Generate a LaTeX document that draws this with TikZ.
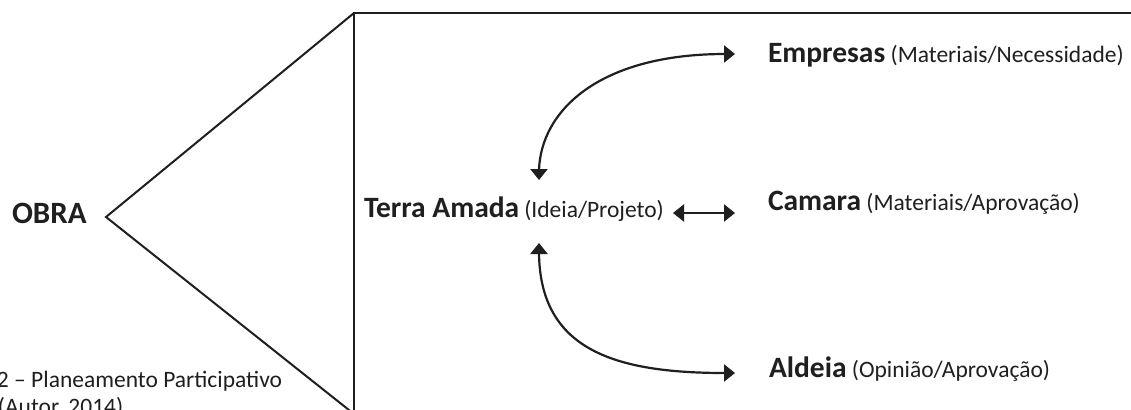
\documentclass[tikz,border=0pt]{standalone}
\usepackage{fontspec}
\setmainfont{Carlito}
\usetikzlibrary{arrows.meta,calc}
\newcommand{\bfnt}{\fontsize{29.5bp}{35bp}\selectfont\bfseries}
\newcommand{\obfnt}{\fontsize{31bp}{36bp}\selectfont\bfseries}
\newcommand{\rgfnt}{\fontsize{23.5bp}{28bp}\selectfont\mdseries}
\tikzset{
  lbl/.style={anchor=base west,inner sep=0pt,outer sep=0pt,text=black!88},
  frame/.style={line width=2.4bp,black!88},
  diag/.style={line width=2bp,black!88},
  curve/.style={line width=2.2bp,black!88},
  head/.style={line width=2.2bp,black!88,-{Triangle[length=11bp,width=17bp]}},
  dlink/.style={line width=2.2bp,black!88,{Triangle[length=11bp,width=17bp]}-{Triangle[length=11bp,width=17bp]}}
}
\begin{document}
\begin{tikzpicture}[x=1bp,y=-1bp]
\clip (0,0) rectangle (1131,409);
\fill[white] (0,0) rectangle (1131,409);
% triangle and frame
\coordinate (apex) at (106,217);
\coordinate (tl) at (354,13);
\coordinate (bl) at (354,414);
\coordinate (tr) at (1135,13);
\draw[diag] (tl) -- (apex) -- (bl);
\draw[frame] (bl) -- (tl) -- (tr);
% labels
\node[lbl] (obra) at (12,223) {\obfnt OBRA};
\node[lbl] (terra) at (364,217) {\bfnt Terra Amada};
\node[lbl,anchor=base west] (ideia) at ($(terra.base east)+(5,0)$) {\rgfnt (Ideia/Projeto)};
\node[lbl] (emp) at (768,62) {\bfnt Empresas\rgfnt\ (Materiais/Necessidade)};
\node[lbl] (cam) at (768,210) {\bfnt Camara\rgfnt\ (Materiais/Aprova\c{c}\~ao)};
\node[lbl] (ald) at (769,377) {\bfnt Aldeia\rgfnt\ (Opini\~ao/Aprova\c{c}\~ao)};
\node[lbl] (cap1) at (-3,387) {\rgfnt 2 -- Planeamento Participativo};
\node[lbl] (cap2) at (-2,414) {\rgfnt (Autor, 2014)};
% arrow end points
\coordinate (up) at (539,180);
\coordinate (dn) at (539,243);
\coordinate (empin) at ($(emp.base west)+(-33,-8)$);
\coordinate (camin) at ($(cam.base west)+(-33,3)$);
\coordinate (aldin) at ($(ald.base west)+(-34,-4)$);
\coordinate (ideiaout) at (673,213);
% connectors
\draw[curve] ($(up)+(0,-10)$) .. controls (541,110) and (600,54) .. ($(empin)+(-10,0)$);
\draw[head] ($(up)+(0,-11)$) -- (up);
\draw[head] ($(empin)+(-11,0)$) -- (empin);
\draw[curve] ($(dn)+(0,10)$) .. controls (540,350) and (615,373) .. ($(aldin)+(-10,0)$);
\draw[head] ($(dn)+(0,11)$) -- (dn);
\draw[head] ($(aldin)+(-11,0)$) -- (aldin);
\draw[dlink] (ideiaout) -- (camin);
\end{tikzpicture}
\end{document}
